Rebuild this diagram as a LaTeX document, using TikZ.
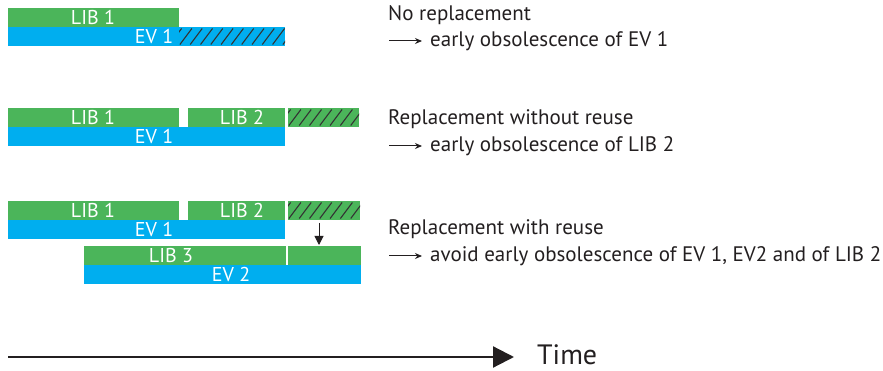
\documentclass[tikz,border=0pt]{standalone}
\usepackage{fontspec}
\setmainfont{PT Sans}
\usetikzlibrary{arrows.meta}
\definecolor{libgreen}{HTML}{4BB55A}
\definecolor{evblue}{HTML}{00AEEF}
\definecolor{inkgray}{HTML}{231F20}
\definecolor{hatchgray}{HTML}{333333}
\tikzset{
  bar/.style={draw=none, inner sep=0pt, outer sep=0pt, anchor=north west, minimum height=19pt},
  barlabel/.style={text=white, inner sep=0pt, font=\fontsize{20}{20}\selectfont},
  desc/.style={text=inkgray, inner sep=0pt, anchor=west, font=\fontsize{21}{21}\selectfont},
  smallarrow/.style={draw=inkgray, line width=1pt, -{Stealth[length=7pt,width=6pt]}},
  hatchline/.style={draw=hatchgray, line width=1.1pt},
}
\newcommand{\hatchfill}[4]{% x1 y1 x2 y2
  \begin{scope}
    \clip (#1,#2) rectangle (#3,#4);
    \foreach \k in {-30,-19.7,...,120} {
      \draw[hatchline] (#1+\k,#4-1.5) -- (#1+\k+12,#2+1.5);
    }
  \end{scope}}
\begin{document}
\begin{tikzpicture}[x=1pt,y=-1pt]
\useasboundingbox (0,0) rectangle (883,371);
\fill[white] (0,0) rectangle (883,371);

% ---- Row 1: no replacement
\node[bar, fill=libgreen, minimum width=171pt] (libAa) at (8,8) {};
\node[bar, fill=evblue, minimum width=277pt] (evAa) at (8,27) {};
\hatchfill{179}{27}{285}{46}
\node[barlabel] (tlibAa) at (93,17.5) {LIB 1};
\node[barlabel] (tevAa) at (154,36.5) {EV 1};

% ---- Row 2: replacement without reuse
\node[bar, fill=libgreen, minimum width=171pt] (libBa) at (8,108) {};
\node[bar, fill=libgreen, minimum width=97pt] (libBb) at (188,108) {};
\node[bar, fill=libgreen, minimum width=71pt] (libBc) at (288,108) {};
\hatchfill{288}{108}{359}{127}
\node[bar, fill=evblue, minimum width=277pt] (evBa) at (8,127) {};
\node[barlabel] (tlibBa) at (93,117.5) {LIB 1};
\node[barlabel] (tlibBb) at (242,117.5) {LIB 2};
\node[barlabel] (tevBa) at (154,136.5) {EV 1};

% ---- Row 3: replacement with reuse
\node[bar, fill=libgreen, minimum width=171pt] (libCa) at (8,201) {};
\node[bar, fill=libgreen, minimum width=97pt] (libCb) at (188,201) {};
\node[bar, fill=libgreen, minimum width=72pt] (libCc) at (288,201) {};
\hatchfill{288}{201}{360}{220}
\node[bar, fill=evblue, minimum width=277pt] (evCa) at (8,220) {};
\node[bar, fill=libgreen, minimum width=202pt] (libCd) at (84,246) {};
\node[bar, fill=libgreen, minimum width=73pt] (libCe) at (288,246) {};
\node[bar, fill=evblue, minimum width=277pt] (evCb) at (84,265) {};
\node[barlabel] (tlibCa) at (93,210.5) {LIB 1};
\node[barlabel] (tlibCb) at (242,210.5) {LIB 2};
\node[barlabel] (tevCa) at (154,229.5) {EV 1};
\node[barlabel] (tlibCd) at (171,255.5) {LIB 3};
\node[barlabel] (tevCb) at (231,274.5) {EV 2};
\coordinate (reuseTop) at (319,223);
\coordinate (reuseBot) at (319,245);
\draw[draw=inkgray, line width=1pt, -{Triangle[length=9pt,width=9pt]}] (reuseTop) -- (reuseBot);

% ---- Descriptions
\node[desc] (dA1) at (388,15) {No replacement};
\coordinate (aA1) at (389,41); \coordinate (aA2) at (422,41);
\draw[smallarrow] (aA1) -- (aA2);
\node[desc] (dA2) at (430,41) {early obsolescence of EV 1};

\node[desc] (dB1) at (388,119) {Replacement without reuse};
\coordinate (aB1) at (389,146); \coordinate (aB2) at (422,146);
\draw[smallarrow] (aB1) -- (aB2);
\node[desc] (dB2) at (430,146) {early obsolescence of LIB 2};

\node[desc] (dC1) at (388,229) {Replacement with reuse};
\coordinate (aC1) at (389,256); \coordinate (aC2) at (422,256);
\draw[smallarrow] (aC1) -- (aC2);
\node[desc] (dC2) at (430,256) {avoid early obsolescence of EV 1, EV2 and of LIB 2};

% ---- Time axis
\coordinate (tStart) at (8,357);
\coordinate (tEnd) at (514,357);
\draw[draw=inkgray, line width=2.2pt, -{Triangle[length=21pt,width=21pt]}] (tStart) -- (tEnd);
\node[text=inkgray, inner sep=0pt, anchor=base west, font=\fontsize{28}{28}\selectfont] (time) at (537,364) {Time};
\end{tikzpicture}
\end{document}
